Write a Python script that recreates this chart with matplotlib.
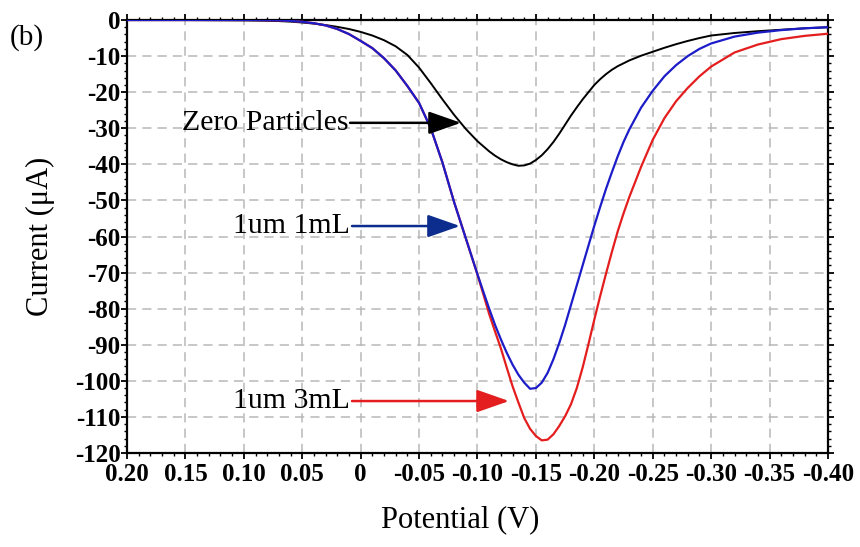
import matplotlib
matplotlib.use("Agg")
import matplotlib.pyplot as plt
from matplotlib.ticker import FixedLocator, FixedFormatter, MultipleLocator

# ---------------- data ----------------
potential = [0.20, 0.15, 0.10, 0.09, 0.08, 0.07, 0.06, 0.05, 0.04, 0.03, 0.02, 0.01,
             0.00, -0.01, -0.02, -0.03, -0.04, -0.05, -0.06, -0.07, -0.08, -0.09,
             -0.10, -0.105, -0.11, -0.115, -0.12, -0.125, -0.13, -0.135, -0.14, -0.145,
             -0.15, -0.155, -0.16, -0.165, -0.17, -0.175, -0.18, -0.185, -0.19, -0.195,
             -0.20, -0.205, -0.21, -0.215, -0.22, -0.225, -0.23, -0.24, -0.25,
             -0.26, -0.27, -0.28, -0.29, -0.30, -0.32, -0.34, -0.36, -0.38, -0.40]

zero_particles = [0, 0, -0.1, -0.15, -0.2, -0.3, -0.45, -0.7, -1.0, -1.4, -1.9, -2.5,
                  -3.3, -4.3, -5.6, -7.3, -9.7, -13.2, -17.5, -22.0, -26.3, -30.2,
                  -33.6, -35.0, -36.4, -37.6, -38.6, -39.4, -40.0, -40.4, -40.3, -39.8,
                  -38.8, -37.5, -35.8, -33.8, -31.5, -29.0, -26.5, -24.2, -22.0, -20.0,
                  -18.0, -16.4, -15.0, -13.8, -12.8, -12.0, -11.2, -9.9, -8.8,
                  -7.7, -6.7, -5.8, -5.0, -4.3, -3.6, -3.1, -2.7, -2.3, -2.0]

um1_1ml = [0, 0, 0, 0, -0.05, -0.1, -0.25, -0.5, -0.9, -1.5, -2.5, -3.9,
           -5.8, -7.8, -10.6, -14.0, -18.3, -23.0, -30.0, -39.5, -50.5, -60.5,
           -70.5, -75.3, -80.0, -84.5, -88.5, -92.2, -95.5, -98.3, -100.5, -102.2,
           -102.0, -100.5, -97.8, -94.0, -89.5, -84.5, -79.0, -73.5, -68.0, -62.5,
           -57.0, -51.8, -46.8, -42.2, -37.8, -33.8, -30.3, -24.3, -19.6,
           -15.6, -12.5, -10.0, -8.0, -6.5, -4.6, -3.5, -2.8, -2.3, -2.0]

um1_3ml = [0, 0, 0, 0, -0.05, -0.1, -0.25, -0.5, -0.9, -1.5, -2.5, -3.9,
           -5.8, -7.8, -10.6, -14.0, -18.3, -23.0, -30.0, -39.5, -50.5, -60.5,
           -70.6, -76.0, -81.5, -86.3, -91.0, -96.3, -101.5, -106.0, -110.3, -113.3,
           -115.3, -116.5, -116.3, -114.8, -112.5, -109.8, -106.5, -102.0, -96.3, -89.8,
           -83.0, -76.5, -70.3, -64.3, -58.6, -53.6, -49.0, -40.7, -33.2,
           -27.2, -22.5, -18.8, -15.6, -12.9, -9.0, -6.8, -5.3, -4.4, -3.8]

x_ticks = [0.20, 0.15, 0.10, 0.05, 0.0, -0.05, -0.10, -0.15, -0.20, -0.25, -0.30, -0.35, -0.40]
x_tick_labels = ["0.20", "0.15", "0.10", "0.05", "0", "-0.05", "-0.10", "-0.15",
                 "-0.20", "-0.25", "-0.30", "-0.35", "-0.40"]
y_ticks = [0, -10, -20, -30, -40, -50, -60, -70, -80, -90, -100, -110, -120]
y_tick_labels = ["0", "-10", "-20", "-30", "-40", "-50", "-60", "-70", "-80", "-90",
                 "-100", "-110", "-120"]

labels = ["Zero Particles", "1um 1mL", "1um 3mL"]
label_y = [-28.5, -57.1, -105.6]
arrow_tail_x = [0.0091, 0.0074, 0.0074]
arrow_tip_x = [-0.0859, -0.085, -0.127]

# ---------------- style ----------------
plt.rcParams['font.family'] = ['Liberation Serif', 'DejaVu Serif']
RED = '#e41e1e'
BLUE = '#1c1cc8'
BLUE_ARROW = '#0c2d8e'

fig = plt.figure(figsize=(8.6, 5.47), dpi=100)
ax = fig.add_axes([127 / 860, 1 - 453 / 547, (828 - 127) / 860, (453 - 20) / 547])

ax.plot(potential, zero_particles, color='black', lw=1.4, zorder=3)
ax.plot(potential, um1_3ml, color=RED, lw=1.6, zorder=3)
ax.plot(potential, um1_1ml, color=BLUE, lw=1.6, zorder=4)

ax.set_xlim(0.20, -0.40)
ax.set_ylim(-120, 0)

ax.xaxis.set_major_locator(FixedLocator(x_ticks))
ax.xaxis.set_major_formatter(FixedFormatter(x_tick_labels))
ax.xaxis.set_minor_locator(MultipleLocator(0.01))
ax.yaxis.set_major_locator(FixedLocator(y_ticks))
ax.yaxis.set_major_formatter(FixedFormatter(y_tick_labels))
ax.yaxis.set_minor_locator(MultipleLocator(2))

ax.tick_params(which='both', direction='out', top=True, right=True,
               labeltop=False, labelright=False, width=1.3, color='black')
ax.tick_params(which='major', length=4.5, labelsize=18)
ax.tick_params(axis='x', which='major', pad=2.5)
ax.tick_params(axis='y', which='major', pad=0)
ax.tick_params(which='minor', length=2.5, width=1.0)
for lab in ax.get_xticklabels() + ax.get_yticklabels():
    lab.set_fontweight('bold')

for s in ax.spines.values():
    s.set_linewidth(1.6)
    s.set_color('black')

ax.grid(True, which='major', color='#b8b8b8', linestyle=(0, (6, 4)), lw=1.1, zorder=0)
ax.set_axisbelow(True)

ax.set_xlabel('Potential (V)', fontsize=22)
ax.xaxis.set_label_coords((460 - 127) / 701, -(520 - 453) / 433, transform=ax.transAxes)
ax.xaxis.label.set_va('center')
ax.set_ylabel('Current (\u03bcA)', fontsize=22)
ax.yaxis.set_label_coords(-(127 - 40) / 701, 0.5, transform=ax.transAxes)
ax.yaxis.label.set_va('center')

colors = ['black', BLUE_ARROW, RED]
for lab, ly, tx, hx, c in zip(labels, label_y, arrow_tail_x, arrow_tip_x, colors):
    ax.text(tx + 0.0015, ly, lab, ha='right', va='center', fontsize=21.5, color='black', zorder=6)
    ax.annotate('', xy=(hx, ly), xytext=(tx, ly),
                arrowprops=dict(arrowstyle='-|>,head_length=1.0,head_width=0.35',
                                mutation_scale=20, color=c, lw=1.8,
                                shrinkA=0, shrinkB=0),
                zorder=6)

fig.text(10 / 860, 1 - 38 / 547, '(b)', fontsize=21, ha='left', va='center')

fig.savefig('out.png', dpi=100)
